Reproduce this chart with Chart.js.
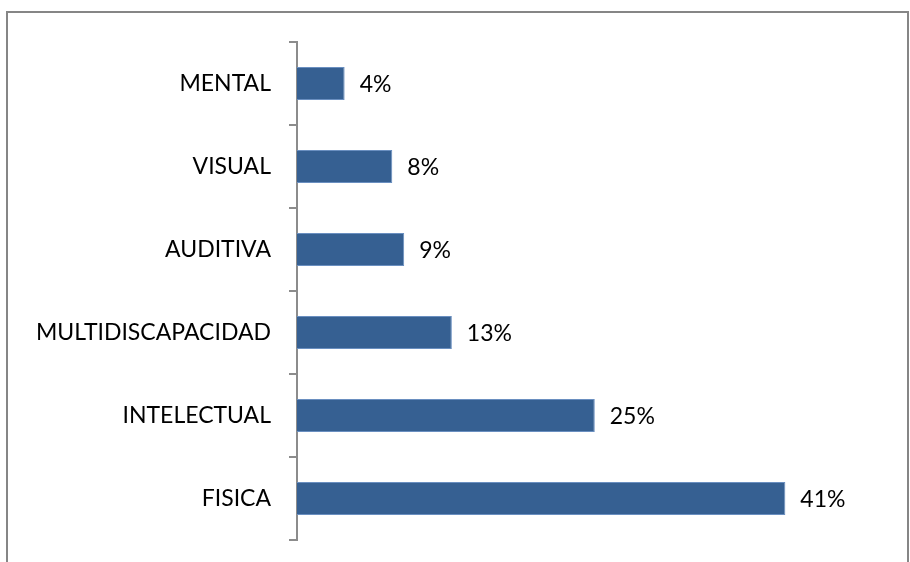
<!DOCTYPE html>
<html>
<head>
<meta charset="utf-8">
<script src="https://cdn.jsdelivr.net/npm/chart.js@4"></script>
<style>
  body { margin: 0; background: #fff; }
  #wrap { width: 910px; height: 562px; }
</style>
</head>
<body>
<div id="wrap"><canvas id="chart" width="910" height="562"></canvas></div>
<script>
// data
var categories = ['MENTAL', 'VISUAL', 'AUDITIVA', 'MULTIDISCAPACIDAD', 'INTELECTUAL', 'FISICA'];
var percentValues = [4, 8, 9, 13, 25, 41];
var valueLabels = ['4%', '8%', '9%', '13%', '25%', '41%'];

var FONT = 'Lato, "Open Sans", sans-serif';

// outer frame of the chart box, bottom edge runs off the picture
var framePlugin = {
    id: 'frame',
    beforeDraw: function (chart) {
        var ctx = chart.ctx;
        ctx.save();
        ctx.fillStyle = '#ffffff';
        ctx.fillRect(0, 0, chart.width, chart.height);
        ctx.strokeStyle = '#868686';
        ctx.lineWidth = 2;
        ctx.strokeRect(7, 12, 901, 600);
        ctx.restore();
    }
};

// value labels to the right of each bar
var valueLabelPlugin = {
    id: 'valueLabels',
    afterDatasetsDraw: function (chart) {
        var ctx = chart.ctx;
        var meta = chart.getDatasetMeta(0);
        ctx.save();
        ctx.font = '23px ' + FONT;
        ctx.fillStyle = '#000000';
        ctx.textAlign = 'left';
        ctx.textBaseline = 'middle';
        meta.data.forEach(function (bar, i) {
            ctx.fillText(valueLabels[i], bar.x + 15, bar.y + 1);
        });
        ctx.restore();
    }
};

var ctx = document.getElementById('chart');
var myBarChart = new Chart(ctx, {
    type: 'bar',
    data: {
        labels: categories,
        datasets: [
            {
                data: percentValues,
                backgroundColor: '#366092',
                borderColor: '#6a8fc0',
                borderWidth: 1,
                barPercentage: 1,
                categoryPercentage: 0.4
            }
        ]
    },
    plugins: [framePlugin, valueLabelPlugin],
    options: {
        indexAxis: 'y',
        responsive: false,
        animation: false,
        layout: {
            padding: { top: 42, bottom: 22, left: 0, right: 77 }
        },
        plugins: {
            legend: { display: false },
            tooltip: { enabled: false }
        },
        scales: {
            x: {
                display: false,
                min: 0,
                max: 45
            },
            y: {
                afterFit: function (scale) {
                    scale.width = 297;
                    // drop the extra room kept for half a label at the ends
                    scale.paddingTop = 0;
                    scale.paddingBottom = 0;
                },
                border: { display: true, color: '#8c8c8c', width: 2 },
                grid: {
                    display: true,
                    drawOnChartArea: false,
                    drawTicks: true,
                    tickLength: 8,
                    color: '#8c8c8c',
                    lineWidth: 2,
                    offset: true
                },
                ticks: {
                    color: '#000000',
                    padding: 18,
                    font: { family: FONT, size: 23 }
                }
            }
        }
    }
});
</script>
</body>
</html>
